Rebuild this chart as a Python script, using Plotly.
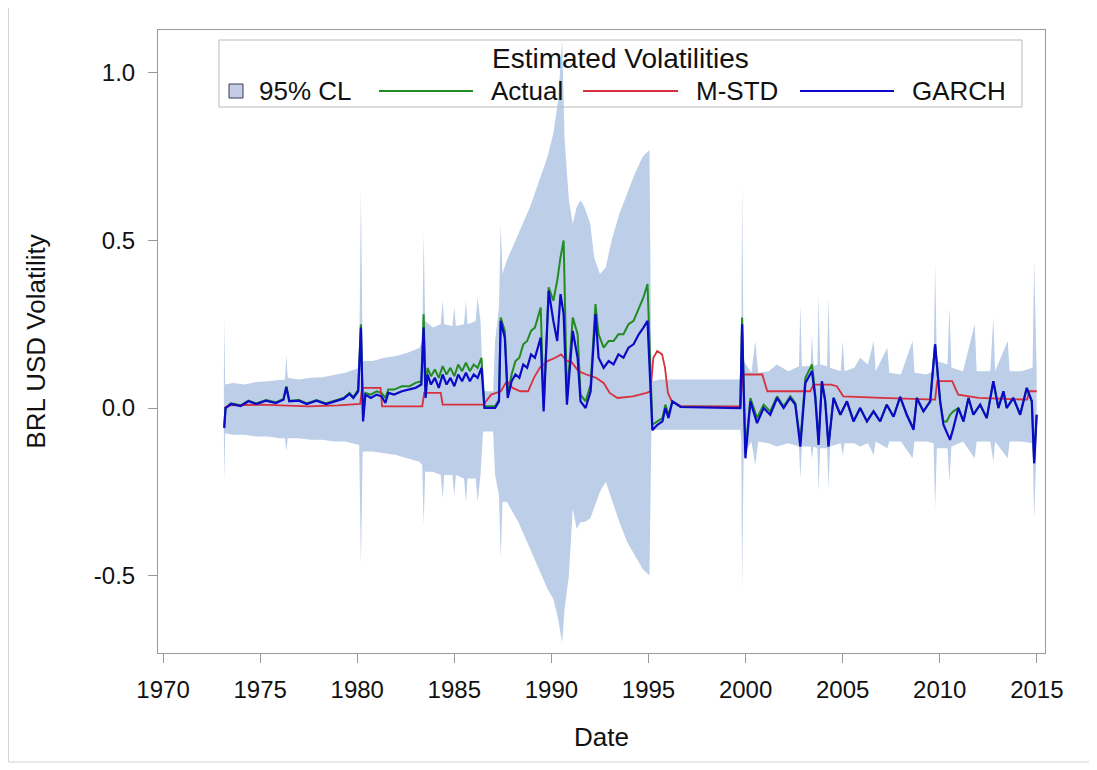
import plotly.graph_objects as go

# GARCH estimated volatility (blue)
garch_t = [1973.15, 1973.22, 1973.5, 1974.0, 1974.4, 1974.8, 1975.3, 1975.8, 1976.2, 1976.35, 1976.5,
           1977.0, 1977.4, 1977.9, 1978.4, 1978.9, 1979.3, 1979.6, 1979.8, 1980.05, 1980.19, 1980.3,
           1980.42, 1980.7, 1981.0, 1981.25, 1981.45, 1981.6, 1981.9, 1982.3, 1982.7, 1983.0, 1983.3,
           1983.42, 1983.52, 1983.62, 1983.8, 1984.0, 1984.2, 1984.4, 1984.6, 1984.8, 1985.0, 1985.2,
           1985.4, 1985.6, 1985.8, 1986.0, 1986.2, 1986.4, 1986.55, 1987.1, 1987.3, 1987.39, 1987.6,
           1987.75, 1987.95, 1988.15, 1988.35, 1988.55, 1988.75, 1988.95, 1989.15, 1989.35, 1989.45,
           1989.6, 1989.86, 1990.1, 1990.3, 1990.47, 1990.63, 1990.8, 1991.1, 1991.35, 1991.5, 1991.76,
           1992.02, 1992.27, 1992.43, 1992.69, 1992.95, 1993.2, 1993.45, 1993.71, 1993.97, 1994.23,
           1994.5, 1994.74, 1994.95, 1995.2, 1995.46, 1995.72, 1995.87, 1996.03, 1996.23, 1996.65,
           1999.6, 1999.73, 1999.82, 1999.99, 2000.25, 2000.59, 2000.93, 2001.27, 2001.62, 2001.96,
           2002.3, 2002.56, 2002.82, 2003.08, 2003.42, 2003.59, 2003.76, 2003.93, 2004.1, 2004.27,
           2004.53, 2004.88, 2005.22, 2005.56, 2005.9, 2006.25, 2006.59, 2006.93, 2007.27, 2007.62,
           2007.96, 2008.3, 2008.65, 2008.82, 2009.16, 2009.51, 2009.76, 2010.02, 2010.19, 2010.36,
           2010.53, 2010.7, 2010.96, 2011.22, 2011.48, 2011.73, 2012.08, 2012.42, 2012.76, 2013.02,
           2013.28, 2013.45, 2013.79, 2014.14, 2014.48, 2014.74, 2014.86, 2014.99]
garch_v = [-0.06, 0.0, 0.012, 0.006, 0.02, 0.012, 0.022, 0.015, 0.025, 0.062, 0.02,
           0.022, 0.012, 0.022, 0.012, 0.022, 0.028, 0.042, 0.03, 0.05, 0.24, -0.04,
           0.04, 0.03, 0.04, 0.035, 0.015, 0.045, 0.04, 0.05, 0.055, 0.06, 0.07,
           0.24, 0.03, 0.1, 0.07, 0.09, 0.06, 0.1, 0.07, 0.09, 0.065, 0.1,
           0.08, 0.105, 0.08, 0.1, 0.09, 0.12, 0.0, 0.0, 0.02, 0.26, 0.21,
           0.03, 0.08, 0.1, 0.09, 0.13, 0.12, 0.16, 0.15, 0.19, 0.21,
           -0.01, 0.35, 0.26, 0.2, 0.34, 0.28, 0.01, 0.23, 0.15, 0.02, 0.0,
           0.05, 0.28, 0.15, 0.12, 0.14, 0.13, 0.16, 0.15, 0.18, 0.19,
           0.22, 0.24, 0.26, -0.066, -0.05, -0.04, 0.0, -0.03, 0.02, 0.003,
           0.0, 0.0, 0.25, -0.15, 0.02, -0.045, 0.0, -0.02, 0.03, 0.0,
           0.03, 0.01, -0.115, 0.075, 0.11, 0.03, -0.11, 0.08, 0.02, -0.115,
           0.03, -0.02, 0.02, -0.04, 0.0, -0.04, -0.01, -0.04, 0.01, -0.026,
           0.033, -0.02, -0.065, 0.03, -0.01, 0.02, 0.19, 0.02, -0.05, -0.07,
           -0.095, -0.06, 0.0, -0.04, 0.03, -0.02, 0.01, -0.03, 0.08, 0.0,
           0.05, 0.0, 0.03, -0.02, 0.06, 0.02, -0.165, -0.02]

# Actual volatility (green), read at the same dates
actual_t = garch_t
actual_v = [-0.055, 0.0, 0.014, 0.008, 0.022, 0.014, 0.024, 0.017, 0.027, 0.065, 0.022,
            0.024, 0.014, 0.024, 0.014, 0.024, 0.03, 0.045, 0.033, 0.055, 0.25, -0.03,
            0.045, 0.04, 0.05, 0.045, 0.03, 0.055, 0.055, 0.065, 0.065, 0.075, 0.08,
            0.28, 0.05, 0.12, 0.095, 0.115, 0.09, 0.125, 0.1, 0.12, 0.095, 0.13,
            0.11, 0.135, 0.11, 0.13, 0.12, 0.15, 0.005, 0.005, 0.025, 0.27, 0.23,
            0.04, 0.1, 0.14, 0.15, 0.19, 0.2, 0.23, 0.24, 0.28, 0.3,
            0.0, 0.36, 0.32, 0.38, 0.45, 0.5, 0.03, 0.27, 0.22, 0.04, 0.02,
            0.07, 0.31, 0.22, 0.18, 0.2, 0.2, 0.22, 0.22, 0.25, 0.26,
            0.3, 0.33, 0.37, -0.05, -0.04, -0.03, 0.01, -0.02, 0.02, 0.005,
            0.003, 0.003, 0.27, -0.13, 0.03, -0.03, 0.01, -0.01, 0.035, 0.005,
            0.035, 0.015, -0.1, 0.09, 0.13, 0.04, -0.1, 0.08, 0.025, -0.11,
            0.03, -0.02, 0.02, -0.04, 0.0, -0.04, -0.01, -0.04, 0.01, -0.026,
            0.033, -0.02, -0.06, 0.03, -0.01, 0.02, 0.19, 0.02, -0.04, -0.04,
            -0.02, -0.01, 0.0, -0.04, 0.03, -0.02, 0.01, -0.03, 0.08, 0.0,
            0.05, 0.0, 0.03, -0.02, 0.06, 0.02, -0.16, -0.02]

# Moving standard deviation (red)
mstd_t = [1973.15, 1973.4, 1975.0, 1976.5, 1977.5, 1979.0, 1980.15, 1980.25, 1981.2, 1981.28,
          1983.35, 1983.45, 1984.3, 1984.4, 1986.5, 1986.9, 1987.4, 1987.7, 1988.0, 1988.4,
          1988.8, 1989.1, 1989.4, 1989.8, 1990.2, 1990.5, 1990.8, 1991.0, 1991.4, 1991.8,
          1992.3, 1992.7, 1993.0, 1993.4, 1994.2, 1994.9, 1995.1, 1995.25, 1995.45, 1995.7,
          1995.85, 1996.0, 1996.2, 1996.7, 1999.73, 1999.85, 2000.86, 2001.12, 2003.33, 2003.5,
          2004.4, 2004.7, 2005.03, 2007.0, 2009.76, 2009.87, 2010.64, 2010.95, 2012.0, 2014.5,
          2014.6, 2014.99]
mstd_v = [0.0, 0.008, 0.01, 0.008, 0.005, 0.008, 0.012, 0.06, 0.06, 0.005,
          0.005, 0.045, 0.045, 0.01, 0.01, 0.04, 0.05, 0.08, 0.06, 0.05,
          0.05, 0.09, 0.12, 0.14, 0.15, 0.16, 0.14, 0.14, 0.11, 0.1,
          0.09, 0.074, 0.045, 0.03, 0.035, 0.045, 0.05, 0.15, 0.17, 0.16,
          0.12, 0.045, 0.02, 0.005, 0.005, 0.1, 0.1, 0.05, 0.05, 0.07,
          0.07, 0.065, 0.035, 0.03, 0.025, 0.08, 0.08, 0.04, 0.03, 0.025,
          0.05, 0.05]

# 95% confidence band (upper / lower limits)
band_t = [1973.13, 1973.15, 1973.2, 1973.6, 1974.2, 1974.8, 1975.4, 1976.0, 1976.28, 1976.35,
          1976.42, 1977.0, 1977.6, 1978.2, 1978.8, 1979.4, 1980.1, 1980.19, 1980.28, 1980.8,
          1981.4, 1982.0, 1982.6, 1983.2, 1983.35, 1983.42, 1983.5, 1983.9, 1984.3, 1984.4,
          1984.48, 1984.9, 1985.0, 1985.08, 1985.5, 1985.6, 1985.68, 1986.1, 1986.2, 1986.35,
          1986.48, 1987.0, 1987.1, 1987.3, 1987.39, 1987.48, 1987.7, 1988.0, 1988.3, 1988.6,
          1988.9, 1989.2, 1989.5, 1989.8, 1990.1, 1990.35, 1990.55, 1990.68, 1990.9, 1991.1,
          1991.3, 1991.5, 1991.7, 1992.0, 1992.2, 1992.5, 1992.8, 1993.1, 1993.5, 1993.9,
          1994.3, 1994.7, 1995.05, 1995.15, 1995.6, 1999.73, 1999.78, 1999.82, 1999.9, 2000.3,
          2000.5, 2000.65, 2001.2, 2001.6, 2002.2, 2002.75, 2002.82, 2002.9, 2003.35, 2003.42,
          2003.5, 2003.7, 2003.76, 2003.84, 2004.2, 2004.27, 2004.35, 2004.9, 2005.0, 2005.1,
          2005.6, 2005.9, 2006.3, 2006.6, 2006.7, 2007.3, 2007.4, 2008.0, 2008.6, 2008.7,
          2009.3, 2009.68, 2009.76, 2009.85, 2010.4, 2010.5, 2010.6, 2011.2, 2011.8, 2011.9,
          2012.6, 2012.76, 2012.85, 2013.5, 2013.6, 2014.2, 2014.78, 2014.86, 2014.99]
band_hi = [0.05, 0.27, 0.07, 0.075, 0.07, 0.078, 0.08, 0.082, 0.085, 0.16,
           0.09, 0.085, 0.09, 0.092, 0.098, 0.105, 0.12, 0.65, 0.14, 0.14,
           0.15, 0.155, 0.165, 0.18, 0.2, 0.52, 0.26, 0.24, 0.25, 0.32,
           0.25, 0.245, 0.3, 0.245, 0.25, 0.32, 0.25, 0.26, 0.33, 0.26,
           0.05, 0.05, 0.2, 0.3, 0.55, 0.4, 0.44, 0.48, 0.52, 0.56,
           0.6, 0.65, 0.7, 0.75, 0.82, 0.92, 1.1, 0.8, 0.62, 0.55,
           0.6, 0.62, 0.6, 0.55, 0.45, 0.4, 0.42, 0.5, 0.58, 0.64,
           0.7, 0.75, 0.77, 0.08, 0.085, 0.085, 0.12, 0.67, 0.14, 0.105,
           0.2, 0.105, 0.11, 0.13, 0.11, 0.125, 0.31, 0.125, 0.125, 0.22,
           0.125, 0.13, 0.34, 0.13, 0.125, 0.33, 0.12, 0.11, 0.2, 0.11,
           0.12, 0.15, 0.13, 0.2, 0.11, 0.18, 0.105, 0.1, 0.2, 0.105,
           0.1, 0.11, 0.43, 0.14, 0.13, 0.3, 0.12, 0.11, 0.25, 0.11,
           0.11, 0.27, 0.11, 0.2, 0.11, 0.11, 0.12, 0.44, 0.11]
band_lo = [-0.05, -0.22, -0.075, -0.08, -0.08, -0.085, -0.085, -0.09, -0.09, -0.13,
           -0.09, -0.09, -0.095, -0.095, -0.1, -0.1, -0.11, -0.47, -0.13, -0.13,
           -0.135, -0.14, -0.15, -0.16, -0.17, -0.35, -0.19, -0.19, -0.2, -0.27,
           -0.2, -0.2, -0.26, -0.2, -0.21, -0.28, -0.21, -0.21, -0.28, -0.2,
           -0.07, -0.07, -0.2, -0.26, -0.45, -0.28, -0.28, -0.31, -0.34, -0.38,
           -0.42, -0.46, -0.5, -0.54, -0.57, -0.63, -0.7, -0.6, -0.5, -0.3,
           -0.36, -0.34, -0.34, -0.33, -0.3, -0.25, -0.22, -0.27, -0.34, -0.4,
           -0.44, -0.48, -0.5, -0.065, -0.065, -0.065, -0.1, -0.55, -0.14, -0.1,
           -0.17, -0.1, -0.105, -0.115, -0.105, -0.115, -0.21, -0.115, -0.115, -0.15,
           -0.115, -0.12, -0.25, -0.12, -0.12, -0.24, -0.115, -0.105, -0.14, -0.105,
           -0.105, -0.115, -0.105, -0.14, -0.1, -0.12, -0.1, -0.1, -0.15, -0.1,
           -0.1, -0.105, -0.3, -0.12, -0.12, -0.22, -0.115, -0.1, -0.15, -0.1,
           -0.1, -0.16, -0.1, -0.15, -0.1, -0.1, -0.105, -0.33, -0.1]

x_ticks = [1970, 1975, 1980, 1985, 1990, 1995, 2000, 2005, 2010, 2015]
y_ticks = [-0.5, 0.0, 0.5, 1.0]
y_ticktext = ['-0.5', '0.0', '0.5', '1.0']

FONT = 'Liberation Sans, Arial, sans-serif'
TXT = '#111111'
BAND = '#BCCEE8'
GREEN, RED, BLUE = '#228B22', '#D8303C', '#0A0AC8'

# plot box in page pixels (figure is drawn 8px in from the page corner)
W, H = 1089, 762
L, R, T, B = 150, 1037, 22, 645


def px(x):
    return (x - L) / (R - L)


def py(y):
    return (B - y) / (B - T)


fig = go.Figure()
fig.add_trace(go.Scatter(x=band_t + band_t[::-1], y=band_hi + band_lo[::-1],
                         fill='toself', fillcolor=BAND, mode='lines',
                         line=dict(width=0, color=BAND), name='95% CL'))
fig.add_trace(go.Scatter(x=actual_t, y=actual_v, mode='lines', name='Actual',
                         line=dict(color=GREEN, width=2)))
fig.add_trace(go.Scatter(x=mstd_t, y=mstd_v, mode='lines', name='M-STD',
                         line=dict(color=RED, width=1.8)))
fig.add_trace(go.Scatter(x=garch_t, y=garch_v, mode='lines', name='GARCH',
                         line=dict(color=BLUE, width=2.2)))

fig.update_xaxes(range=[1969.74, 2015.42], tickvals=x_ticks, ticks='outside', ticklen=9,
                 tickcolor='#9a9a9a', showline=True, linecolor='#9a9a9a', mirror=True,
                 showgrid=False, zeroline=False, automargin=False, ticklabelstandoff=6,
                 tickfont=dict(size=24, color=TXT, family=FONT),
                 title=dict(text='Date', font=dict(size=26, color=TXT, family=FONT), standoff=26))
fig.update_yaxes(range=[-0.731, 1.128], tickvals=y_ticks, ticktext=y_ticktext, ticks='outside',
                 ticklen=9, tickcolor='#9a9a9a', showline=True, linecolor='#9a9a9a', mirror=True,
                 showgrid=False, zeroline=False, automargin=False, ticklabelstandoff=8,
                 tickfont=dict(size=24, color=TXT, family=FONT),
                 title=dict(text='BRL USD Volatility', font=dict(size=26, color=TXT, family=FONT),
                            standoff=40))

# legend box drawn in the SAS style
legend_items = [('Actual', GREEN, 2, 371, 465, 481),
                ('M-STD', RED, 1.8, 575, 670, 686),
                ('GARCH', BLUE, 2.2, 792, 886, 902)]
row_y = 83
shapes = [
    dict(type='rect', xref='paper', yref='paper', x0=px(0.5), x1=px(1082), y0=py(754), y1=py(-0.5),
         line=dict(color='#d4d4d4', width=1)),
    dict(type='rect', xref='paper', yref='paper', x0=px(211), x1=px(1014), y0=py(99), y1=py(32),
         line=dict(color='#b9b9b9', width=1)),
    dict(type='rect', xref='paper', yref='paper', x0=px(221), x1=px(235), y0=py(90), y1=py(76),
         fillcolor='#C4CCE8', line=dict(color='#3a3a4a', width=1)),
]
annotations = [
    dict(text='Estimated Volatilities', xref='paper', yref='paper', x=px(612), y=py(50),
         xanchor='center', yanchor='middle', showarrow=False,
         font=dict(size=28, color=TXT, family=FONT)),
    dict(text='95% CL', xref='paper', yref='paper', x=px(249), y=py(row_y),
         xanchor='left', yanchor='middle', showarrow=False,
         font=dict(size=26, color=TXT, family=FONT)),
]
for name, col, lw, x0, x1, xt in legend_items:
    shapes.append(dict(type='line', xref='paper', yref='paper', x0=px(x0), x1=px(x1),
                       y0=py(row_y), y1=py(row_y), line=dict(color=col, width=lw)))
    annotations.append(dict(text=name, xref='paper', yref='paper', x=px(xt), y=py(row_y),
                            xanchor='left', yanchor='middle', showarrow=False,
                            font=dict(size=26, color=TXT, family=FONT)))

fig.update_layout(
    width=W, height=H,
    margin=dict(l=L, r=W - R, t=T, b=H - B),
    paper_bgcolor='white', plot_bgcolor='white',
    font=dict(family=FONT, color=TXT),
    showlegend=False,
    shapes=shapes,
    annotations=annotations,
)

fig.write_html('out.html')
